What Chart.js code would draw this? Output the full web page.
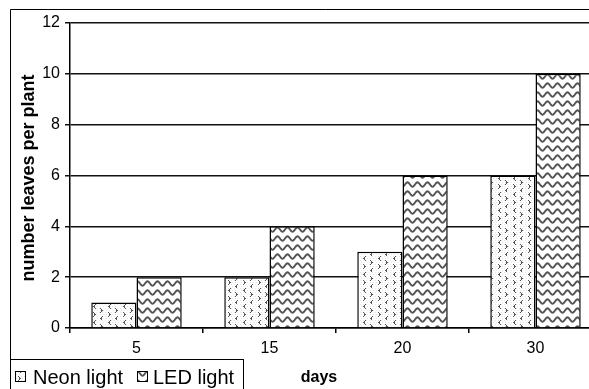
<!DOCTYPE html>
<html>
<head>
<meta charset="utf-8">
<script src="https://cdn.jsdelivr.net/npm/chart.js@4/dist/chart.umd.min.js"></script>
<style>
  html, body { margin: 0; padding: 0; background: #fff; overflow: hidden; }
  #wrap { position: relative; width: 589px; height: 389px; overflow: hidden; }
  canvas { display: block; }
</style>
</head>
<body>
<div id="wrap"><canvas id="c" width="640" height="389"></canvas></div>
<script>
// Leaf counts per plant, sampled on four days
const days = ['5', '15', '20', '30'];
const neonLight = [1, 2, 3, 6];
const ledLight = [2, 4, 6, 10];
const seriesNames = ['Neon light', 'LED light'];

const FONT = "'Liberation Sans', Arial, sans-serif";

// Dotted chevron fill
function makeNeonPattern() {
  const t = document.createElement('canvas');
  t.width = 15; t.height = 16;
  const g = t.getContext('2d');
  g.fillStyle = '#fff';
  g.fillRect(0, 0, 15, 16);
  g.fillStyle = '#e6e6e6';
  for (let y = 0; y < 16; y += 2) {
    for (let x = (y / 2) % 2; x < 15; x += 3) g.fillRect(x, y, 1, 1);
  }
  g.fillStyle = '#555';
  // "<" shape
  const lt = (x, y) => { g.fillRect(x + 2, y, 1, 1); g.fillRect(x + 1, y + 1, 1, 1); g.fillRect(x, y + 2, 2, 1); g.fillRect(x + 1, y + 3, 1, 1); g.fillRect(x + 2, y + 4, 1, 1); };
  // ">" shape
  const gt = (x, y) => { g.fillRect(x, y, 1, 1); g.fillRect(x + 1, y + 1, 1, 1); g.fillRect(x + 1, y + 2, 2, 1); g.fillRect(x + 1, y + 3, 1, 1); g.fillRect(x, y + 4, 1, 1); };
  lt(3, 0);
  gt(10, 4);
  gt(3, 8);
  lt(10, 12);
  return g.createPattern(t, 'repeat');
}

// Wavy line fill
function makeWavePattern() {
  const w = 10, h = 9;
  const t = document.createElement('canvas');
  t.width = w; t.height = h;
  const g = t.getContext('2d');
  g.fillStyle = '#fff';
  g.fillRect(0, 0, w, h);
  g.strokeStyle = '#555';
  g.lineWidth = 1.9;
  for (const off of [-h, 0, h]) {
    g.beginPath();
    for (let x = -1; x <= w + 1; x += 0.5) {
      const y = 4.5 + off + 2.2 * Math.sin((x / w) * Math.PI * 2);
      if (x === -1) g.moveTo(x, y); else g.lineTo(x, y);
    }
    g.stroke();
  }
  return g.createPattern(t, 'repeat');
}

const neonFill = makeNeonPattern();
const ledFill = makeWavePattern();

// Frame, axis titles and boxed legend
const decorations = {
  id: 'decorations',
  afterDraw(chart) {
    const ctx = chart.ctx;
    ctx.save();
    ctx.strokeStyle = '#000';
    ctx.lineWidth = 1;
    // outer frame
    ctx.beginPath();
    ctx.moveTo(10.5, 400);
    ctx.lineTo(10.5, 9.5);
    ctx.lineTo(chart.width, 9.5);
    ctx.stroke();

    // y title
    ctx.fillStyle = '#000';
    ctx.font = 'bold 18px ' + FONT;
    ctx.textAlign = 'center';
    ctx.textBaseline = 'middle';
    ctx.save();
    ctx.translate(29, 178);
    ctx.rotate(-Math.PI / 2);
    ctx.fillText('number leaves per plant', 0, 0);
    ctx.restore();

    // x title
    ctx.font = 'bold 16px ' + FONT;
    ctx.fillText('days', 319, 378);

    // legend box
    ctx.fillStyle = '#fff';
    ctx.fillRect(10.5, 359.5, 233, 40);
    ctx.strokeRect(10.5, 359.5, 233, 40);
    const items = [
      { label: seriesNames[0], fill: neonFill, x: 15, tx: 33 },
      { label: seriesNames[1], fill: ledFill, x: 137, tx: 153 }
    ];
    ctx.font = '20px ' + FONT;
    ctx.textAlign = 'left';
    ctx.textBaseline = 'alphabetic';
    for (const it of items) {
      ctx.fillStyle = it.fill;
      ctx.fillRect(it.x + 0.5, 371.5, 10, 10);
      ctx.strokeRect(it.x + 0.5, 371.5, 10, 10);
      ctx.fillStyle = '#000';
      ctx.fillText(it.label, it.tx, 384);
    }
    ctx.restore();
  }
};

new Chart(document.getElementById('c'), {
  type: 'bar',
  data: {
    labels: days,
    datasets: [
      { label: seriesNames[0], data: neonLight, backgroundColor: neonFill, borderColor: '#000', borderWidth: 1.5 },
      { label: seriesNames[1], data: ledLight, backgroundColor: ledFill, borderColor: '#000', borderWidth: 1.5 }
    ]
  },
  options: {
    responsive: false,
    animation: false,
    events: [],
    layout: { padding: { left: 10, top: 23, right: 38, bottom: 0 } },
    datasets: { bar: { categoryPercentage: 0.68, barPercentage: 1 } },
    plugins: { legend: { display: false }, tooltip: { enabled: false } },
    scales: {
      x: {
        offset: true,
        grid: { display: true, drawOnChartArea: false, color: '#000', lineWidth: 1.5, tickLength: 5, offset: true },
        border: { display: true, color: '#000', width: 1.5 },
        ticks: { color: '#000', font: { family: FONT, size: 16 }, padding: 6 },
        afterFit(s) { s.height = 61; }
      },
      y: {
        min: 0,
        max: 12,
        ticks: { stepSize: 2, color: '#000', font: { family: FONT, size: 16 }, padding: 5 },
        grid: { color: '#111', lineWidth: 1.5, tickLength: 5 },
        border: { display: true, color: '#000', width: 1.5 },
        afterFit(s) { s.width = 60; }
      }
    }
  },
  plugins: [decorations]
});
</script>
</body>
</html>
